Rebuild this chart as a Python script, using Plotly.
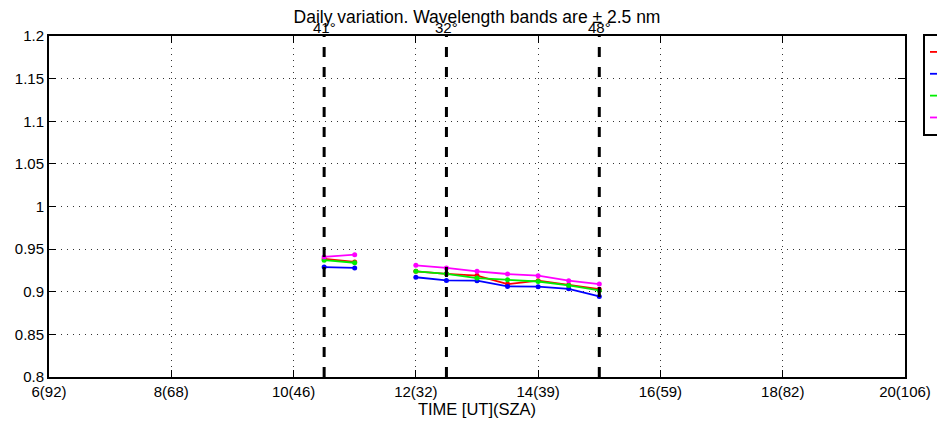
import plotly.graph_objects as go

# ---- data ----
hours_morning = [10.5, 11.0]
hours_midday = [12.0, 12.5, 13.0, 13.5, 14.0, 14.5, 15.0]

series_names = ["305 nm", "310 nm", "320 nm", "340 nm"]
series_colors = ["#ff0000", "#0000ff", "#00ee00", "#ff00ff"]

red_morning = [0.9385, 0.935]
red_midday = [0.924, 0.921, 0.919, 0.909, 0.913, 0.908, 0.903]
blue_morning = [0.929, 0.928]
blue_midday = [0.917, 0.9133, 0.913, 0.9063, 0.906, 0.9035, 0.8945]
green_morning = [0.937, 0.934]
green_midday = [0.924, 0.921, 0.916, 0.914, 0.912, 0.9074, 0.9015]
magenta_morning = [0.9408, 0.9435]
magenta_midday = [0.931, 0.928, 0.924, 0.9208, 0.9188, 0.913, 0.909]

marker_hours = [10.5, 12.5, 15.0]
marker_labels = ["41°", "32°", "48°"]

xtick_vals = [6, 8, 10, 12, 14, 16, 18, 20]
xtick_text = ["6(92)", "8(68)", "10(46)", "12(32)", "14(39)", "16(59)", "18(82)", "20(106)"]
ytick_vals = [0.8, 0.85, 0.9, 0.95, 1.0, 1.05, 1.1, 1.15, 1.2]
ytick_text = ["0.8", "0.85", "0.9", "0.95", "1", "1.05", "1.1", "1.15", "1.2"]

y_range = [0.8, 1.2]
x_range = [6, 20]

morning = [red_morning, blue_morning, green_morning, magenta_morning]
midday = [red_midday, blue_midday, green_midday, magenta_midday]

FONT = "Liberation Sans, Arial, Helvetica"

fig = go.Figure()

for name, color, ym, yd in zip(series_names, series_colors, morning, midday):
    fig.add_trace(go.Scatter(
        x=hours_morning, y=ym, mode="lines+markers", name=name,
        line=dict(color=color, width=1.8), marker=dict(color=color, size=5),
        legendgroup=name, showlegend=True))
    fig.add_trace(go.Scatter(
        x=hours_midday, y=yd, mode="lines+markers", name=name,
        line=dict(color=color, width=1.8), marker=dict(color=color, size=5),
        legendgroup=name, showlegend=False))

for h in marker_hours:
    fig.add_trace(go.Scatter(
        x=[h, h], y=y_range, mode="lines",
        line=dict(color="black", width=3, dash="10px,10px"),
        showlegend=False, hoverinfo="skip"))

for h, lab in zip(marker_hours, marker_labels):
    fig.add_annotation(x=h, y=1.0, xref="x", yref="paper", yanchor="bottom",
                       text=lab, showarrow=False, yshift=-2,
                       font=dict(family=FONT, size=15, color="black"))

axis_common = dict(
    showline=True, linecolor="black", linewidth=2, mirror="ticks",
    ticks="inside", ticklen=7, tickwidth=1, tickcolor="black",
    showgrid=True, gridcolor="#333333", gridwidth=1, griddash="1px,5px",
    zeroline=False,
    tickfont=dict(family=FONT, size=15, color="black"),
)

fig.update_xaxes(range=x_range, tickvals=xtick_vals, ticktext=xtick_text,
                 title=dict(text="TIME [UT](SZA)", standoff=2,
                            font=dict(family=FONT, size=16.5, color="black")),
                 **axis_common)
fig.update_yaxes(range=y_range, tickvals=ytick_vals, ticktext=ytick_text, **axis_common)

fig.update_layout(
    width=937, height=427,
    margin=dict(l=49, r=32, t=36, b=50, autoexpand=False),
    plot_bgcolor="white", paper_bgcolor="white",
    title=dict(text="Daily variation. Wavelength bands are ± 2.5 nm",
               x=0.5, xref="paper", xanchor="center", y=1 - 17 / 427, yanchor="middle",
               font=dict(family=FONT, size=17.5, color="black")),
    legend=dict(x=1.0 + 18 / 856, xref="paper", xanchor="left", y=1.0 + 2 / 341, yanchor="top",
                bordercolor="black", borderwidth=2, bgcolor="white", tracegroupgap=0,
                font=dict(family=FONT, size=14.5, color="black")),
    font=dict(family=FONT, color="black"),
)

fig.write_html("out.html", config={"displayModeBar": False},
               post_script="document.body.style.margin='0';document.body.style.padding='0';")
